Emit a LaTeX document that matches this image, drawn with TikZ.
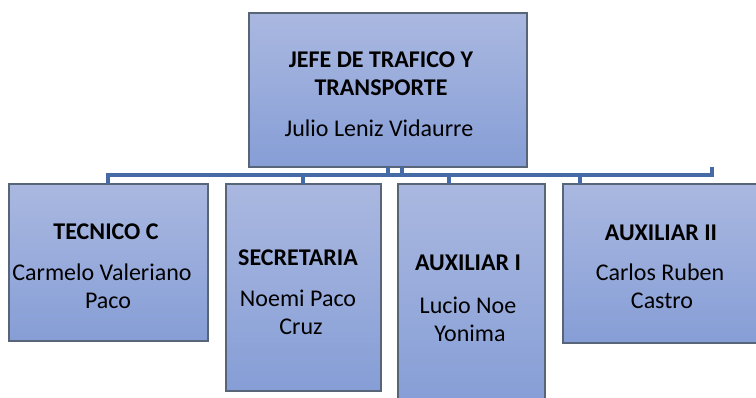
\documentclass[tikz,border=0pt]{standalone}
\usepackage{fontspec}
\setmainfont{Carlito}
\definecolor{boxtop}{RGB}{170,184,224}
\definecolor{boxbot}{RGB}{134,158,214}
\definecolor{boxline}{RGB}{88,100,120}
\definecolor{conn}{RGB}{70,106,165}
\begin{document}
\begin{tikzpicture}[x=1pt,y=-1pt,
  orgbox/.style={draw=boxline,line width=1.1pt,top color=boxtop,bottom color=boxbot,inner sep=0pt},
  ttl/.style={font=\fontsize{24}{28}\selectfont\bfseries,inner sep=0pt,anchor=center},
  nm/.style={font=\fontsize{24}{28}\selectfont,inner sep=0pt,anchor=center},
  link/.style={draw=conn,line width=3.2pt}]
\useasboundingbox (0,0) rectangle (756,398);
% boxes
\path[orgbox] (249,13) rectangle (527,167);
\path[orgbox] (9,184) rectangle (208,341);
\path[orgbox] (226,184) rectangle (381,391);
\path[orgbox] (398,184) rectangle (545,404);
\path[orgbox] (563,184) rectangle (762,343);
% connectors
\coordinate (bl) at (108,175);
\coordinate (br) at (712,175);
\draw[link,line cap=butt] (388,167) -- (388,175);
\draw[link,line cap=butt] (402,167) -- (402,175);
\draw[link] (108,184) -- (bl) -- (br) -- (712,167);
\draw[link] (303,175) -- (303,184);
\draw[link] (449,175) -- (449,184);
\draw[link] (580,175) -- (580,184);
% texts
\node[ttl] (t1) at (381,60) {JEFE DE TRAFICO Y};
\node[ttl] (t2) at (381,88) {TRANSPORTE};
\node[nm] (n1) at (379,128) {Julio Leniz Vidaurre};
\node[ttl] (t3) at (106,232) {TECNICO C};
\node[nm] (n2) at (102,272) {Carmelo Valeriano};
\node[nm] (n3) at (108,301) {Paco};
\node[ttl] (t4) at (298,258) {SECRETARIA};
\node[nm] (n4) at (298,298) {Noemi Paco};
\node[nm] (n5) at (301,327) {Cruz};
\node[ttl] (t5) at (468,263) {AUXILIAR I};
\node[nm] (n6) at (468,305) {Lucio Noe};
\node[nm] (n7) at (470,333) {Yonima};
\node[ttl] (t6) at (661,233) {AUXILIAR II};
\node[nm] (n8) at (660,272) {Carlos Ruben};
\node[nm] (n9) at (662,301) {Castro};
\end{tikzpicture}
\end{document}
